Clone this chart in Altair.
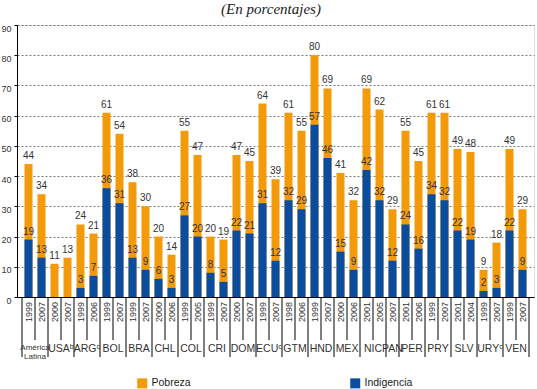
import altair as alt
import pandas as pd

# ---- data ----
country = ["AL", "AL", "USA", "USA", "ARG", "ARG", "BOL", "BOL", "BRA", "BRA",
           "CHL", "CHL", "COL", "COL", "CRI", "CRI", "DOM", "DOM", "ECU", "ECU",
           "GTM", "GTM", "HND", "HND", "MEX", "MEX", "NIC", "NIC", "PAN", "PER",
           "PER", "PRY", "PRY", "SLV", "SLV", "URY", "URY", "VEN", "VEN"]
years = ["1999", "2007", "2000", "2007", "1999", "2006", "1999", "2007", "1999", "2007",
         "2000", "2006", "1999", "2005", "1999", "2007", "2000", "2007", "1999", "2007",
         "1998", "2006", "1999", "2007", "2000", "2006", "2001", "2005", "2007", "2001",
         "2006", "1999", "2007", "2001", "2004", "1999", "2007", "1999", "2007"]
pobreza = [44, 34, 11, 13, 24, 21, 61, 54, 38, 30, 20, 14, 55, 47, 20, 19, 47, 45, 64, 39,
           61, 55, 80, 69, 41, 32, 69, 62, 29, 55, 45, 61, 61, 49, 48, 9, 18, 49, 29]
indigencia = [19, 13, None, None, 3, 7, 36, 31, 13, 9, 6, 3, 27, 20, 8, 5, 22, 21, 31, 12,
              32, 29, 57, 46, 15, 9, 42, 32, 12, 24, 16, 34, 32, 22, 19, 2, 3, 22, 9]
group_codes = ["AL", "USA", "ARG", "BOL", "BRA", "CHL", "COL", "CRI", "DOM", "ECU",
               "GTM", "HND", "MEX", "NIC", "PAN", "PER", "PRY", "SLV", "URY", "VEN"]
group_labels = ["América\nLatina", "USAᵇ", "ARGᶜ", "BOL", "BRA", "CHL", "COL", "CRI", "DOM", "ECUᶜ",
                "GTM", "HND", "MEX", "NIC", "PAN", "PER", "PRY", "SLV", "URYᶜ", "VEN"]
y_ticks = [0, 10, 20, 30, 40, 50, 60, 70, 80, 90]
series = ["Pobreza", "Indigencia"]
colors = ["#F39A0B", "#0A4D9E"]
title_text = "(En porcentajes)"

FONT = "Liberation Sans"
n = len(country)
idx = list(range(n))

base_df = pd.DataFrame({"idx": idx, "country": country, "year": years,
                        "pob": pobreza, "ind": indigencia})

long_rows = []
for s, vals in (("Pobreza", pobreza), ("Indigencia", indigencia)):
    for i, v in enumerate(vals):
        if v is not None:
            long_rows.append({"idx": i, "serie": s, "value": v})
long_df = pd.DataFrame(long_rows)

# separators
sep_rows = [{"b": -0.5, "kind": "long"}]
for i in range(n):
    last = (i == n - 1) or (country[i + 1] != country[i])
    sep_rows.append({"b": i + 0.5, "kind": "long" if last else "short"})
sep_df = pd.DataFrame(sep_rows)

grp_rows = []
for code, lab in zip(group_codes, group_labels):
    pos = [i for i in idx if country[i] == code]
    grp_rows.append({"pos": sum(pos) / len(pos), "label": lab, "al": code == "AL"})
grp_df = pd.DataFrame(grp_rows)

W, H = 517, 272
xscale = alt.Scale(domain=[-0.5, n - 0.5], nice=False, zero=False)
xaxis = alt.Axis(labels=False, ticks=False, grid=False, title=None,
                 domainColor="#000000", domainWidth=1)
yscale = alt.Scale(domain=[0, 90], nice=False)
yaxis = alt.Axis(values=y_ticks, tickCount=10, title=None, labelOverlap=False,
                 grid=True, gridColor="#7a7a7a", gridDash=[2, 2], gridWidth=1,
                 domainColor="#000000", tickColor="#000000", tickSize=3,
                 labelFont=FONT, labelFontSize=9, labelColor="#333333",
                 labelPadding=3, labelOffset=3)


def XQ(field):
    return alt.X(field, scale=xscale, axis=xaxis)


def YQ(field):
    return alt.Y(field, scale=yscale, axis=yaxis, stack=None)


bars = alt.Chart(long_df).mark_bar(size=8).encode(
    x=XQ("idx:Q"),
    y=YQ("value:Q"),
    color=alt.Color("serie:N", scale=alt.Scale(domain=series, range=colors),
                    legend=alt.Legend(title=None, orient="none", legendX=120, legendY=353,
                                      direction="horizontal", columns=2, gridAlign="all",
                                      columnPadding=150, symbolType="square", symbolSize=100,
                                      symbolStrokeWidth=0, labelFont=FONT, labelFontSize=10.5,
                                      labelColor="#222222", padding=0, labelOffset=4)),
    order=alt.Order("serie:N", sort="descending"),
)

tot_labels = alt.Chart(base_df).mark_text(
    baseline="bottom", dy=-3, font=FONT, fontSize=10, color="#333333"
).encode(x=XQ("idx:Q"), y=YQ("pob:Q"), text="pob:Q")

ind_labels = alt.Chart(base_df.dropna(subset=["ind"])).mark_text(
    baseline="bottom", dy=-3, font=FONT, fontSize=10, color="#333333"
).encode(x=XQ("idx:Q"), y=YQ("ind:Q"), text=alt.Text("ind:Q", format="d"))

year_labels = alt.Chart(base_df).mark_text(
    angle=270, align="right", baseline="middle", font=FONT, fontSize=9, color="#333333"
).encode(x=XQ("idx:Q"), y=alt.value(H + 5), text="year:N")

seps_short = alt.Chart(sep_df[sep_df.kind == "short"]).mark_rule(color="#000000", strokeWidth=1).encode(
    x=XQ("b:Q"), y=alt.value(H), y2=alt.value(H + 43))
seps_long = alt.Chart(sep_df[sep_df.kind == "long"]).mark_rule(color="#000000", strokeWidth=1).encode(
    x=XQ("b:Q"), y=alt.value(H), y2=alt.value(H + 60))

grp_main = alt.Chart(grp_df[~grp_df.al]).mark_text(
    baseline="middle", font=FONT, fontSize=10.5, color="#333333"
).encode(x=XQ("pos:Q"), y=alt.value(H + 52), text="label:N")

grp_al = alt.Chart(grp_df[grp_df.al]).mark_text(
    baseline="middle", font=FONT, fontSize=8, color="#333333", lineBreak="\n", lineHeight=9
).encode(x=XQ("pos:Q"), y=alt.value(H + 51), text="label:N")

title = alt.Chart(pd.DataFrame({"t": [title_text]})).mark_text(
    font="Liberation Serif", fontStyle="italic", fontSize=15, color="#222222",
    baseline="alphabetic", align="center"
).encode(x=alt.value(254), y=alt.value(-11), text="t:N")

chart = alt.layer(bars, tot_labels, ind_labels, year_labels, seps_short, seps_long,
                  grp_main, grp_al, title).properties(
    width=W, height=H,
    autosize=alt.AutoSizeParams(type="none"),
    padding={"left": 17, "top": 25, "right": 3, "bottom": 92},
).configure_view(stroke=None).configure(background="white")

chart.save("out.html", embed_options={"renderer": "svg", "actions": False})
